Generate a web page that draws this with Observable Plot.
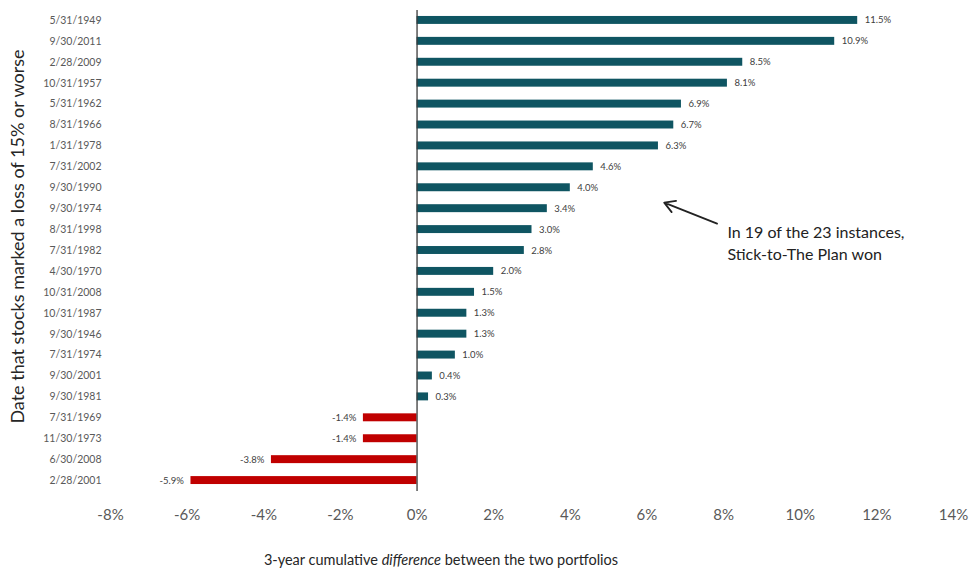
<!DOCTYPE html>
<html>
<head>
<meta charset="utf-8">
<script src="https://cdn.jsdelivr.net/npm/d3@7"></script>
<script src="https://cdn.jsdelivr.net/npm/@observablehq/plot@0.6"></script>
<style>
  body { margin: 0; background: #fff; font-family: Lato, "Open Sans", sans-serif; }
  #wrap { position: relative; width: 969px; height: 571px; }
  #xtitle { position: absolute; left: 0; width: 882px; text-align: center; top: 551px; font-size: 14.5px; color: #262626; }
</style>
</head>
<body>
<div id="wrap">
  <div id="chart"></div>
  <div id="xtitle">3-year cumulative <i>difference</i> between the two portfolios</div>
</div>
<script>
const dates = ["5/31/1949","9/30/2011","2/28/2009","10/31/1957","5/31/1962","8/31/1966","1/31/1978","7/31/2002","9/30/1990","9/30/1974","8/31/1998","7/31/1982","4/30/1970","10/31/2008","10/31/1987","9/30/1946","7/31/1974","9/30/2001","9/30/1981","7/31/1969","11/30/1973","6/30/2008","2/28/2001"];
const values = [11.5,10.9,8.5,8.1,6.9,6.7,6.3,4.6,4.0,3.4,3.0,2.8,2.0,1.5,1.3,1.3,1.0,0.4,0.3,-1.4,-1.4,-3.8,-5.9];
const xTicks = [-8,-6,-4,-2,0,2,4,6,8,10,12,14];
const annotation = "In 19 of the 23 instances,\nStick-to-The Plan won";
const yTitle = "Date that stocks marked a loss of 15% or worse";

const data = dates.map((d, i) => ({date: d, value: values[i]}));
const pos = data.filter(d => d.value >= 0);
const neg = data.filter(d => d.value < 0);

const chart = Plot.plot({
  width: 969,
  height: 540,
  marginLeft: 110,
  marginRight: 16,
  marginTop: 3,
  marginBottom: 43,
  style: {fontFamily: "Lato, 'Open Sans', sans-serif", background: "#fff"},
  x: {domain: [-8, 14], ticks: xTicks, tickFormat: d => d + "%"},
  y: {domain: dates, padding: 0.62, round: false},
  marks: [
    Plot.barX(pos, {x: "value", y: "date", fill: "#0f5562"}),
    Plot.barX(neg, {x: "value", y: "date", fill: "#c00000"}),
    Plot.ruleX([0], {stroke: "#3a3a3a", strokeWidth: 1.3, insetTop: 7, insetBottom: 6}),
    Plot.text(pos, {x: "value", y: "date", text: d => d.value.toFixed(1) + "%", textAnchor: "start", dx: 7, fontSize: 9.5, fill: "#404040"}),
    Plot.text(neg, {x: "value", y: "date", text: d => d.value.toFixed(1) + "%", textAnchor: "end", dx: -7, fontSize: 9.5, fill: "#404040"}),
    Plot.arrow([{x1: 7.83, y1: "8/31/1998", x2: 6.45, y2: "9/30/1974"}], {x1: "x1", y1: "y1", x2: "x2", y2: "y2", dy: -6, stroke: "#222", strokeWidth: 1.8, headLength: 10}),
    Plot.text([{x: 8.1, y: "8/31/1998", t: annotation}], {x: "x", y: "y", text: "t", textAnchor: "start", lineAnchor: "middle", dy: 12, lineHeight: 1.42, fontSize: 16, fill: "#222"}),
    Plot.axisX({ticks: xTicks, tickFormat: d => d + "%", tickSize: 0, tickPadding: 12, fontSize: 15, fill: "#595959", label: null}),
    Plot.axisY({tickSize: 0, tickPadding: 9, fontSize: 10.5, fill: "#595959", label: null}),
    Plot.text([yTitle], {text: d => d, frameAnchor: "left", textAnchor: "middle", dx: -92, dy: -14, rotate: -90, fontSize: 18, fill: "#262626"})
  ]
});
document.getElementById("chart").appendChild(chart);
</script>
</body>
</html>
